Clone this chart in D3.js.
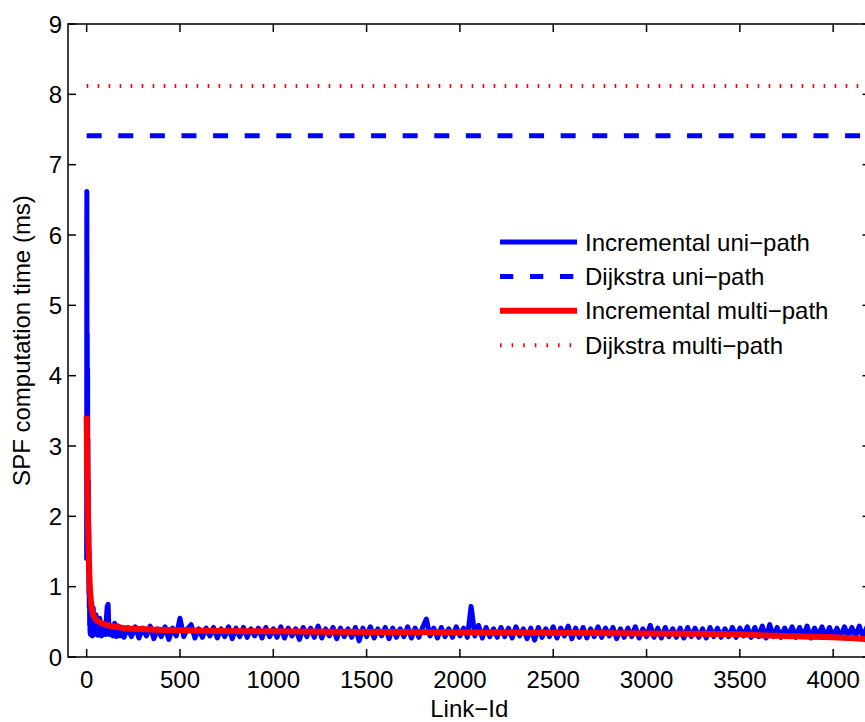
<!DOCTYPE html>
<html>
<head>
<meta charset="utf-8">
<script src="https://cdn.jsdelivr.net/npm/d3@7"></script>
<style>
  html, body { margin: 0; padding: 0; background: #fff; overflow: hidden; }
  svg { display: block; font-family: "Liberation Sans", Arial, Helvetica, sans-serif; }
</style>
</head>
<body>
<svg id="chart" width="865" height="722"></svg>
<script>
// SPF computation time per link failure (ms)

const xTicks = [0, 500, 1000, 1500, 2000, 2500, 3000, 3500, 4000];
const yTicks = [0, 1, 2, 3, 4, 5, 6, 7, 8, 9];

const seriesNames = ["Incremental uni\u2212path", "Dijkstra uni\u2212path", "Incremental multi\u2212path", "Dijkstra multi\u2212path"];

// Incremental uni-path: first links in detail
const uniHeadIds  = [0, 1, 2, 3, 4, 5, 6, 7, 8, 9, 10, 11, 12, 13, 14, 15, 16, 17, 18, 19, 20,
                     25, 30, 35, 40, 50, 60, 70, 80, 90, 100, 110, 115, 120, 130, 140, 150, 160, 170, 180, 190, 200];
const uniHeadVals = [1.40, 6.62, 3.2, 4.6, 2.6, 4.1, 2.2, 3.1, 1.6, 2.5, 1.2, 1.9, 0.9, 1.5, 0.7, 1.1, 0.45, 0.9, 0.35, 0.75, 0.32,
                     0.62, 0.30, 0.70, 0.32, 0.60, 0.31, 0.55, 0.30, 0.48, 0.32, 0.72, 0.75, 0.32, 0.45, 0.30, 0.48, 0.29, 0.44, 0.30, 0.42, 0.28];

// Incremental uni-path: remaining links, every 20th link from 220 to 4200
const uniTailStart = 220, uniTailStep = 20;
const uniTailVals = [
  0.42,0.29,0.43,0.27,0.41,0.30,0.44,0.26,0.40,0.29,
  0.43,0.25,0.41,0.30,0.55,0.29,0.40,0.46,0.27,0.40,
  0.28,0.41,0.30,0.42,0.27,0.40,0.29,0.43,0.26,0.41,
  0.29,0.42,0.28,0.40,0.30,0.41,0.27,0.42,0.29,0.40,
  0.28,0.43,0.27,0.41,0.30,0.40,0.25,0.42,0.29,0.41,
  0.28,0.44,0.27,0.40,0.30,0.42,0.26,0.41,0.29,0.40,
  0.28,0.42,0.23,0.41,0.29,0.43,0.27,0.40,0.30,0.42,
  0.26,0.41,0.28,0.40,0.29,0.43,0.27,0.41,0.28,0.42,
  0.54,0.30,0.41,0.27,0.42,0.29,0.40,0.28,0.43,0.30,
  0.41,0.28,0.72,0.30,0.45,0.27,0.42,0.29,0.40,0.28,
  0.42,0.29,0.41,0.27,0.43,0.30,0.40,0.26,0.41,0.24,
  0.42,0.28,0.40,0.29,0.43,0.27,0.41,0.30,0.44,0.26,
  0.41,0.28,0.42,0.27,0.40,0.29,0.43,0.28,0.41,0.30,
  0.42,0.26,0.40,0.28,0.41,0.29,0.43,0.27,0.40,0.29,
  0.45,0.28,0.41,0.27,0.42,0.29,0.40,0.28,0.41,0.27,
  0.42,0.29,0.41,0.28,0.40,0.27,0.42,0.29,0.41,0.28,
  0.40,0.29,0.42,0.28,0.41,0.30,0.43,0.28,0.42,0.29,
  0.44,0.27,0.46,0.29,0.42,0.28,0.41,0.30,0.43,0.28,
  0.42,0.29,0.44,0.27,0.41,0.30,0.43,0.28,0.42,0.29,
  0.41,0.28,0.43,0.30,0.42,0.29,0.44,0.28,0.42,0.35
];

// Incremental multi-path (smooth trend)
const multiIds  = [0, 2, 5, 8, 10, 13, 16, 20, 25, 30, 40, 50, 65, 80, 100, 130, 160, 200, 260, 350,
                   500, 700, 1000, 1300, 1600, 2000, 2400, 2700, 3000, 3300, 3500, 3600, 3800, 4000, 4100, 4150, 4180, 4195];
const multiVals = [3.43, 2.9, 2.3, 1.85, 1.6, 1.3, 1.05, 0.88, 0.74, 0.65, 0.57, 0.53, 0.50, 0.48, 0.46, 0.44, 0.43, 0.41, 0.40, 0.39,
                   0.38, 0.37, 0.365, 0.36, 0.355, 0.35, 0.345, 0.34, 0.335, 0.33, 0.325, 0.31, 0.295, 0.28, 0.27, 0.26, 0.245, 0.21];

// Dijkstra reference times (constant)
const dijkstraUni = 7.41;
const dijkstraMulti = 8.12;
const linkRange = [0, 4200];

(function draw() {
  const svg = d3.select("#chart");
  const mLeft = 68, mTop = 24, mRight = 870.5, mBottom = 657;

  const x = d3.scaleLinear().domain([-100, 4200]).range([mLeft, mRight]);
  const y = d3.scaleLinear().domain([0, 9]).range([mBottom, mTop]);

  svg.append("defs").append("clipPath").attr("id", "plotclip")
    .append("rect").attr("x", mLeft).attr("y", mTop).attr("width", mRight - mLeft).attr("height", mBottom - mTop);

  const uniData = uniHeadIds.map((id, i) => [id, uniHeadVals[i]])
    .concat(uniTailVals.map((v, i) => [uniTailStart + i * uniTailStep, v]));
  const multiData = multiIds.map((id, i) => [id, multiVals[i]]);

  const line = d3.line().x(d => x(d[0])).y(d => y(d[1]));
  const smooth = d3.line().x(d => x(d[0])).y(d => y(d[1])).curve(d3.curveMonotoneX);

  const g = svg.append("g").attr("clip-path", "url(#plotclip)");

  // Dijkstra multi-path (dotted)
  g.append("path")
    .datum(linkRange.map(id => [id, dijkstraMulti]))
    .attr("d", line)
    .attr("fill", "none").attr("stroke", "#ff0000")
    .attr("stroke-width", 4).attr("stroke-dasharray", "1.6 9.4");

  // Dijkstra uni-path (dashed)
  g.append("path")
    .datum(linkRange.map(id => [id, dijkstraUni]))
    .attr("d", line)
    .attr("fill", "none").attr("stroke", "#0000ff")
    .attr("stroke-width", 5).attr("stroke-dasharray", "15 16.6");

  // Incremental uni-path
  g.append("path")
    .datum(uniData)
    .attr("d", line)
    .attr("fill", "none").attr("stroke", "#0000ff")
    .attr("stroke-width", 5).attr("stroke-linejoin", "round").attr("stroke-linecap", "round");

  // Incremental multi-path
  g.append("path")
    .datum(multiData)
    .attr("d", smooth)
    .attr("fill", "none").attr("stroke", "#ff0000")
    .attr("stroke-width", 6).attr("stroke-linejoin", "round");

  // Axes box with inward ticks on all four sides
  const axes = svg.append("g").attr("stroke", "#000").attr("stroke-width", 1.5).attr("fill", "none");
  axes.append("rect").attr("x", mLeft).attr("y", mTop).attr("width", mRight - mLeft).attr("height", mBottom - mTop);

  const tickLen = 8;
  xTicks.forEach(t => {
    axes.append("line").attr("x1", x(t)).attr("x2", x(t)).attr("y1", mBottom).attr("y2", mBottom - tickLen);
    axes.append("line").attr("x1", x(t)).attr("x2", x(t)).attr("y1", mTop).attr("y2", mTop + tickLen);
  });
  yTicks.forEach(t => {
    axes.append("line").attr("x1", mLeft).attr("x2", mLeft + tickLen).attr("y1", y(t)).attr("y2", y(t));
    axes.append("line").attr("x1", mRight).attr("x2", mRight - tickLen).attr("y1", y(t)).attr("y2", y(t));
  });

  const fontSize = 24;
  svg.append("g").selectAll("text").data(xTicks).join("text")
    .attr("x", d => x(d)).attr("y", 688)
    .attr("text-anchor", "middle").attr("font-size", fontSize).attr("fill", "#000")
    .text(d => d);

  svg.append("g").selectAll("text").data(yTicks).join("text")
    .attr("x", 62).attr("y", d => y(d) + 8.5)
    .attr("text-anchor", "end").attr("font-size", fontSize).attr("fill", "#000")
    .text(d => d);

  svg.append("text")
    .attr("x", (mLeft + mRight) / 2).attr("y", 717)
    .attr("text-anchor", "middle").attr("font-size", fontSize).attr("fill", "#000")
    .text("Link\u2212Id");

  svg.append("text")
    .attr("transform", `translate(30, ${(mTop + mBottom) / 2}) rotate(-90)`)
    .attr("text-anchor", "middle").attr("font-size", fontSize).attr("fill", "#000")
    .text("SPF computation time (ms)");

  // Legend
  const legend = svg.append("g");
  const legendStyles = [
    { color: "#0000ff", width: 5, dash: null },
    { color: "#0000ff", width: 5, dash: "13.3 16.7" },
    { color: "#ff0000", width: 6, dash: null },
    { color: "#ff0000", width: 4, dash: "1.6 10" }
  ];
  seriesNames.forEach((name, i) => {
    const cy = 242 + i * 34.4;
    const s = legendStyles[i];
    legend.append("line")
      .attr("x1", 500).attr("x2", 577).attr("y1", cy).attr("y2", cy)
      .attr("stroke", s.color).attr("stroke-width", s.width)
      .attr("stroke-dasharray", s.dash);
    legend.append("text")
      .attr("x", 585).attr("y", cy + 8.5)
      .attr("font-size", fontSize).attr("fill", "#000")
      .text(name);
  });
})();
</script>
</body>
</html>
